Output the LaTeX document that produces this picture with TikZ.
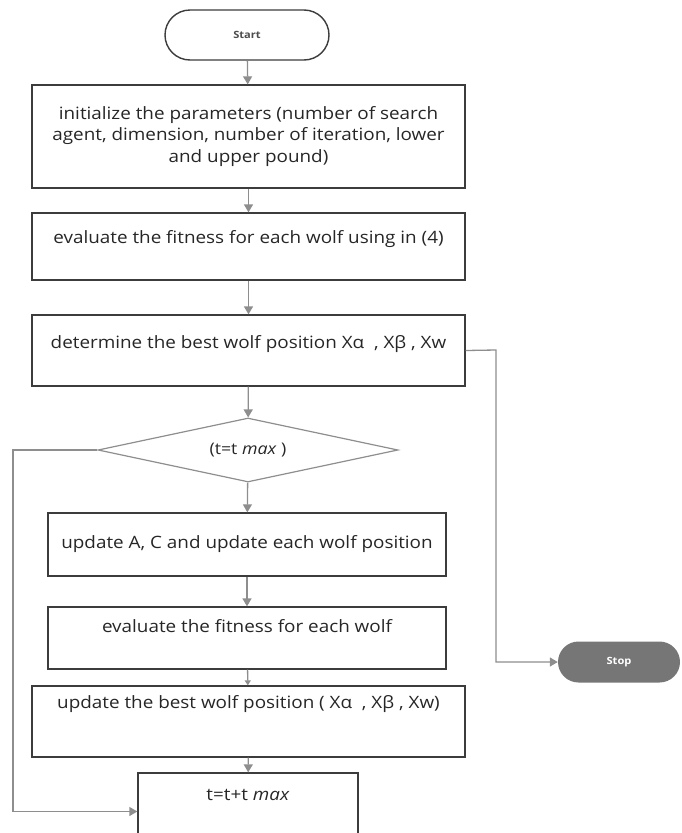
\documentclass[tikz,border=0pt]{standalone}
\usepackage{fontspec}
\setmainfont{Open Sans}[FakeStretch=1.11]
\usetikzlibrary{shapes,arrows.meta}

\definecolor{boxline}{HTML}{3C3C3C}
\definecolor{linkgray}{HTML}{8E8E8E}
\definecolor{stopgray}{HTML}{767676}
\definecolor{ink}{HTML}{262626}

\tikzset{
  proc/.style={draw=boxline, line width=1.3pt, rectangle, align=center, inner sep=0pt,
    font=\fontsize{17}{21.5}\selectfont, text=ink},
  txtup/.style={text height=12.8pt, text depth=#1},
  term/.style={rounded rectangle, minimum width=#1, minimum height=50pt, inner sep=0pt,
    font=\fontsize{10}{11}\selectfont\bfseries},
  link/.style={draw=linkgray, line width=1.3pt, -{Triangle[length=8pt,width=9pt]}},
}

\begin{document}
\begin{tikzpicture}[x=1pt,y=-1pt]
  \useasboundingbox (0,0) rectangle (681,833);
	% terminals
	\node[term=164pt, draw=boxline, line width=1.4pt, text=black!70] (start) at (247,35) {Start};
	\node[term=122pt, minimum height=41pt, fill=stopgray, text=white] (stop) at (619,662) {Stop};
	% process boxes
	\node[proc, minimum width=433pt, minimum height=103pt] (init) at (248.5,136.5)
		{initialize the parameters (number of search\\agent, dimension, number of iteration, lower\\and upper pound)};
	\node[proc, txtup=18.6pt, minimum width=433pt, minimum height=67pt] (fit) at (248.5,246.5)
		{evaluate the fitness for each wolf using in (4)};
	\node[proc, txtup=16.6pt, minimum width=433pt, minimum height=71pt] (best) at (248.5,350.5)
		{determine the best wolf position Xα\ \ , Xβ , Xw};
	\node[diamond, aspect=4.7, draw=linkgray, line width=1.2pt, minimum width=300pt, minimum height=64pt,
		inner sep=0pt, font=\fontsize{16}{18}\selectfont, text=ink] (cond) at (248,450) {(t=t \textit{max}\ )};
	\node[proc, minimum width=398pt, minimum height=63pt] (upd) at (247,544.5)
		{update A, C and update each wolf position};
	\node[proc, txtup=23.6pt, minimum width=398pt, minimum height=62pt] (fitw) at (247,638)
		{evaluate the fitness for each wolf};
	\node[proc, txtup=38.6pt, minimum width=433pt, minimum height=71pt] (upbest) at (248.5,721.5)
		{update the best wolf position ( Xα\ \ , Xβ , Xw)};
	\node[proc, txtup=34.6pt, minimum width=220pt, minimum height=77pt] (inc) at (248,811.5)
		{t=t+t \textit{max}};
	% bends
	\coordinate (rbend) at (496,350);
	\coordinate (lbend) at (13,450);
	% connectors
	\draw[link] (start) -- (init);
	\draw[link] (init) -- (fit);
	\draw[link] (fit) -- (best);
	\draw[link] (best) -- (cond);
	\draw[link] (cond) -- (upd);
	\draw[link] (upd) -- (fitw);
	\draw[link, -{Triangle[length=5pt,width=6pt]}] (fitw) -- (upbest);
	\draw[link] (upbest) -- (inc);
	\draw[link] (best.east) -- (rbend) |- (stop.west);
	\draw[link] (cond.west) -- (lbend) |- (inc.west);
\end{tikzpicture}
\end{document}
